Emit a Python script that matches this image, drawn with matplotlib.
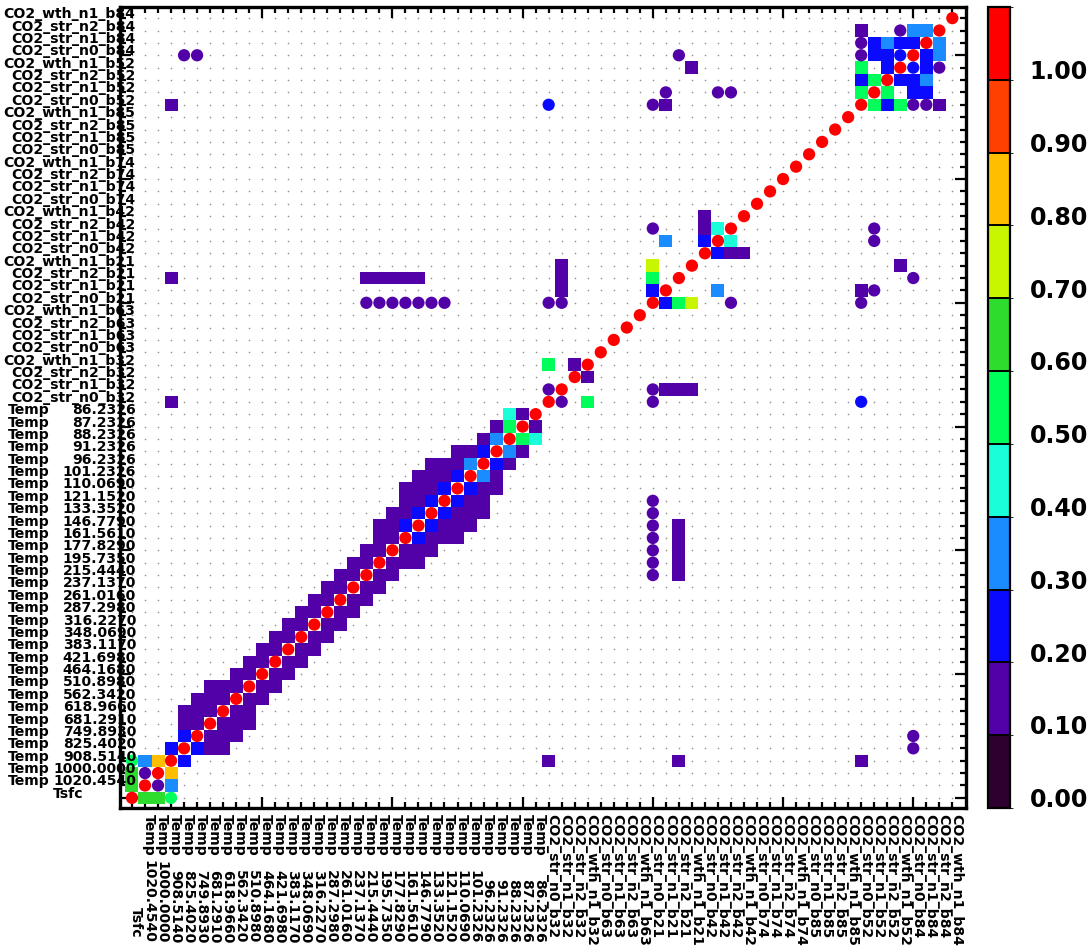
import matplotlib
matplotlib.use("Agg")
import matplotlib.pyplot as plt
import matplotlib.transforms as mtransforms
from matplotlib.colors import ListedColormap, BoundaryNorm
from matplotlib.cm import ScalarMappable
from matplotlib.patches import Rectangle
import numpy as np

plt.rcParams['font.family'] = ['DejaVu Sans']

# ---- state vector elements -------------------------------------------------
temp_levels = ["1020.4540", "1000.0000", "908.5140", "825.4020", "749.8930",
               "681.2910", "618.9660", "562.3420", "510.8980", "464.1680",
               "421.6980", "383.1170", "348.0690", "316.2270", "287.2980",
               "261.0160", "237.1370", "215.4440", "195.7350", "177.8290",
               "161.5610", "146.7790", "133.3520", "121.1520", "110.0690",
               "101.2326", "96.2326", "91.2326", "88.2326", "87.2326",
               "86.2326"]
co2_bands = ["b32", "b63", "b21", "b42", "b74", "b85", "b52", "b84"]
co2_kinds = ["str_n0", "str_n1", "str_n2", "wth_n1"]

labels = (["Tsfc"] + ["Temp " + p for p in temp_levels]
          + ["CO2_" + k + "_" + b for b in co2_bands for k in co2_kinds])
n = len(labels)

# ---- off-diagonal correlations (symmetric, each pair stored once) ----------
# element index: 0 Tsfc, 1-31 temperature levels, 32-63 CO2 elements
# positive values are drawn as circles, negative values as squares
pair_a = [0, 0, 0, 1, 1, 2, 3,
          4, 4, 4, 5, 5, 5, 6, 6, 6, 7, 7, 8, 8, 9, 9,
          10, 10, 11, 11, 12, 12, 13, 13, 14, 14, 15, 15, 16, 16, 17, 17,
          18, 18, 19, 19, 19, 20, 20, 20,
          21, 21, 21, 21, 22, 22, 22, 22, 23, 23, 23, 23, 24, 24, 24,
          25, 25, 25, 26, 26, 27, 27, 28, 28, 29, 29, 30,
          3, 3, 3, 4, 5,
          18, 19, 20, 21, 22, 18, 19, 20, 21, 22, 23, 24,
          32, 32, 32, 32, 33, 33, 33, 33, 34,
          40, 40, 40, 40, 40, 41, 41, 41, 42, 43,
          44, 44, 44, 45, 45, 46,
          56, 56, 56, 56, 56, 56, 57, 57, 57, 58, 58, 58,
          59, 59, 59, 60, 60, 61]
pair_b = [1, 2, 3, 2, 3, 3, 4,
          5, 6, 7, 6, 7, 8, 7, 8, 9, 8, 9, 9, 10, 10, 11,
          11, 12, 12, 13, 13, 14, 14, 15, 15, 16, 16, 17, 17, 18, 18, 19,
          19, 20, 20, 21, 22, 21, 22, 23,
          22, 23, 24, 25, 23, 24, 25, 26, 24, 25, 26, 27, 25, 26, 27,
          26, 27, 28, 27, 28, 28, 29, 29, 30, 30, 31, 31,
          32, 42, 56, 60, 60,
          42, 42, 42, 42, 42, 40, 40, 40, 40, 40, 40, 40,
          33, 35, 40, 56, 40, 41, 42, 43, 35,
          41, 42, 43, 46, 56, 45, 56, 57, 60, 59,
          45, 46, 47, 46, 57, 57,
          57, 58, 59, 60, 61, 62, 58, 60, 61, 59, 60, 61,
          60, 61, 62, 61, 62, 62]
pair_r = [-0.65, -0.65, 0.55, 0.15, -0.35, -0.85, -0.25,
          -0.25, -0.15, -0.15, -0.15, -0.15, -0.15, -0.15, -0.15, -0.15,
          -0.15, -0.15, -0.15, -0.15, -0.15, -0.15,
          -0.15, -0.15, -0.15, -0.15, -0.15, -0.15, -0.15, -0.15, -0.15, -0.15,
          -0.15, -0.15, -0.15, -0.15, -0.15, -0.15,
          -0.15, -0.15, -0.15, -0.15, -0.15, -0.15, -0.15, -0.15,
          -0.25, -0.15, -0.15, -0.15, -0.25, -0.15, -0.15, -0.15,
          -0.25, -0.15, -0.15, -0.15, -0.25, -0.15, -0.15,
          -0.25, -0.15, -0.15, -0.35, -0.15, -0.25, -0.15, -0.35, -0.15,
          -0.55, -0.45, -0.15,
          -0.15, -0.15, -0.15, 0.15, 0.15,
          -0.15, -0.15, -0.15, -0.15, -0.15, 0.15, 0.15, 0.15, 0.15, 0.15, 0.15, 0.15,
          0.15, -0.55, 0.15, 0.25, 0.15, -0.15, -0.15, -0.15, -0.15,
          -0.25, -0.55, -0.75, 0.15, 0.15, -0.35, -0.15, 0.15, 0.15, -0.15,
          -0.25, -0.15, -0.15, -0.45, 0.15, 0.15,
          -0.55, -0.25, -0.55, 0.15, 0.15, -0.15, -0.55, -0.25, -0.25,
          -0.25, -0.25, -0.35,
          0.25, -0.25, 0.15, -0.25, -0.35, -0.35]

# ---- colour scale ----------------------------------------------------------
bin_colors = ["#2e0030", "#5200a8", "#0a0aff", "#1a8cff", "#1affd9",
              "#00ff5a", "#2ddc2d", "#c8f500", "#ffbf00", "#ff4000", "#ff0000"]
bounds = np.round(np.linspace(0.0, 1.1, 12), 2)
cbar_values = [0.0, 0.1, 0.2, 0.3, 0.4, 0.5, 0.6, 0.7, 0.8, 0.9, 1.0]
cmap = ListedColormap(bin_colors)
norm = BoundaryNorm(bounds, cmap.N)

W, H = 1092, 946
fig = plt.figure(figsize=(W / 100, H / 100), dpi=100)
ax = fig.add_axes([120 / W, 1 - 808 / H, 846 / W, 801 / H])


def fx(px):
    return px / W


def fy(py):
    return 1 - py / H


# full symmetric matrix
rows = list(range(n)) + pair_a + pair_b
cols = list(range(n)) + pair_b + pair_a
vals = [1.0] * n + pair_r + pair_r

# background grid of small dots
gx, gy = np.meshgrid(np.arange(n), np.arange(n))
ax.scatter(gx.ravel(), gy.ravel(), s=1.4, c="#949494", linewidths=0, zorder=1)

circ_x, circ_y, circ_c = [], [], []
for r, c, v in zip(rows, cols, vals):
    color = cmap(norm(abs(v)))
    if v > 0:
        circ_x.append(c)
        circ_y.append(r)
        circ_c.append(color)
    else:
        ax.add_patch(Rectangle((c - 0.5, r - 0.5), 1, 1, facecolor=color,
                               edgecolor="none", zorder=2))
ax.scatter(circ_x, circ_y, s=78, c=circ_c, marker="o", linewidths=0, zorder=3)

ax.set_xlim(-0.92, 64.05)
ax.set_ylim(-0.82, 63.9)

ax.set_xticks(np.arange(0, n, 10))
ax.set_yticks(np.arange(0, n, 10))
ax.set_xticks(np.arange(n), minor=True)
ax.set_yticks(np.arange(n), minor=True)
ax.tick_params(which="both", direction="in", top=True, right=True,
               labelbottom=False, labelleft=False, color="black", width=1.6)
ax.tick_params(which="major", length=8)
ax.tick_params(which="minor", length=4)
for sp in ax.spines.values():
    sp.set_linewidth(2.4)

# ---- tick labels -----------------------------------------------------------
lab_font = dict(fontsize=10.1, fontweight="bold", color="black")
ytr = mtransforms.blended_transform_factory(fig.transFigure, ax.transData)
xtr = mtransforms.blended_transform_factory(ax.transData, fig.transFigure)
for k, lab in enumerate(labels):
    if lab == "Tsfc":
        fig.text(fx(68), k, lab, transform=ytr, ha="center", va="baseline", **lab_font)
        fig.text(k + 0.3, fy(937), lab, transform=xtr, rotation=-90,
                 ha="center", va="bottom", **lab_font)
    elif lab.startswith("Temp"):
        word, num = lab.split()
        fig.text(fx(8), k, word, transform=ytr, ha="left", va="baseline", **lab_font)
        fig.text(fx(136), k, num, transform=ytr, ha="right", va="baseline", **lab_font)
        fig.text(k + 0.3, fy(814), word, transform=xtr, rotation=-90,
                 ha="center", va="top", **lab_font)
        fig.text(k + 0.3, fy(943), num, transform=xtr, rotation=-90,
                 ha="center", va="bottom", **lab_font)
    else:
        fig.text(fx(135), k, lab, transform=ytr, ha="right", va="baseline", **lab_font)
        fig.text(k + 0.3, fy(814), lab, transform=xtr, rotation=-90,
                 ha="center", va="top", **lab_font)

# ---- colour bar ------------------------------------------------------------
cax = fig.add_axes([988 / W, 1 - 808 / H, 22 / W, 801 / H])
sm = ScalarMappable(norm=norm, cmap=cmap)
cb = fig.colorbar(sm, cax=cax, drawedges=True)
cb.outline.set_linewidth(1.6)
cb.dividers.set_linewidth(1.4)
cb.set_ticks([v + 0.014 for v in cbar_values])
cb.set_ticklabels(["%.2f" % v for v in cbar_values])
cax.tick_params(length=0, pad=14, labelsize=17)
for t in cax.get_yticklabels():
    t.set_fontweight("bold")

fig.savefig("out.png", dpi=100)
